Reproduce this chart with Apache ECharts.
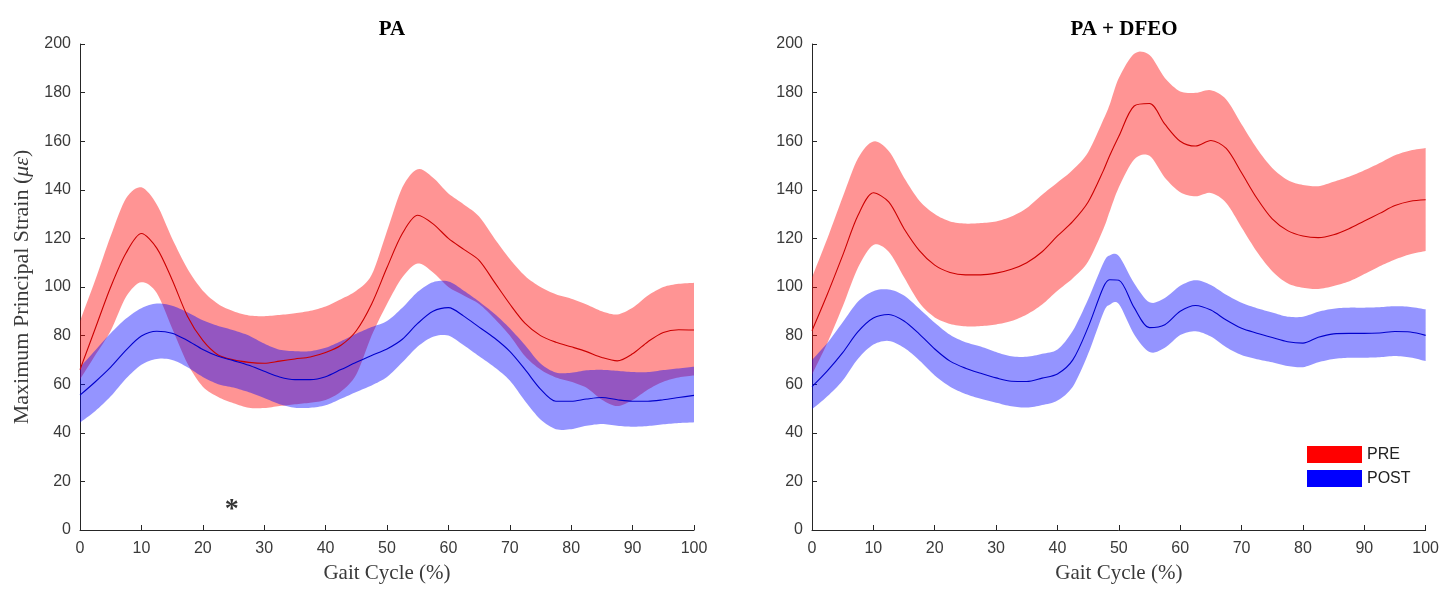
<!DOCTYPE html>
<html>
<head>
<meta charset="utf-8">
<script src="https://cdn.jsdelivr.net/npm/echarts@6/dist/echarts.min.js"></script>
<style>
html,body{margin:0;padding:0;background:#fff;}
#chart{width:1442px;height:589px;}
</style>
</head>
<body>
<div id="chart"></div>
<script>
// ---------- Data ----------
const panelTitles = ['PA', 'PA + DFEO'];
const xTicks = [0, 10, 20, 30, 40, 50, 60, 70, 80, 90, 100];
const yTicks = [0, 20, 40, 60, 80, 100, 120, 140, 160, 180, 200];

// Left panel (PA)
const xLeft = [0,2.5,5,7.5,10,12.5,15,17.5,20,22.5,25,27.5,30,32.5,35,37.5,40,42.5,45,47.5,50,52.5,55,57.5,60,62.5,65,67.5,70,72.5,75,77.5,80,82.5,85,87.5,90,92.5,95,97.5,100];
const preMeanLeft  = [66,83,100,114,122,116,103,88,78,72,70,69,68.6,69.5,70.4,71.2,73,76,82,93,108,122,129.5,126,120,115.5,111,102,93,85,80,77.3,75.4,73.4,71,69.6,72.5,77.5,81.3,82.4,82.3];
const preUpperLeft = [86,103,121,136.5,141,134,120,107.5,98.5,93,90,88.3,88,88.5,89.2,90.2,92,95,98.5,105,123,141,148.5,145,138.5,134,129,120,111.5,104.5,100,97,95.2,92.8,90,88.7,91.5,96.5,100,101.3,101.7];
const preLowerLeft = [62,72,82,96,102,97.5,83,68.5,59,54.7,52.2,50.3,50.2,51,51.7,52.4,53.5,57,64,80,93,104,109.7,106,100,96.5,93,87,80,71.5,66,62.8,61,58.5,53.6,51,53.5,57.8,61,62.8,63.6];
const postMeanLeft  = [55.5,61,67,74,79.8,81.8,81,78,74.3,71.5,69.7,67.8,65.3,63,61.9,61.9,63.1,66,69,71.8,74.5,78.5,85,90,91.5,88,83.5,79,73.5,66,58,53,53,53.9,54.5,53.6,53,53,53.6,54.5,55.4];
const postUpperLeft = [67,74,81,87,91.3,93.2,92.3,89.6,86.3,84,82.2,80,76.7,74.2,73.6,73.6,75,77.7,80.8,83.5,86,91.5,98,102,102.3,98.5,94,89,83,76,68.5,64.8,64.7,65.7,65.9,65.5,65,65,65.8,66.5,67.2];
const postLowerLeft = [44.2,49,55,62.3,68,70.4,70,67,63,60,58.6,56.7,54.3,51.8,50.3,50.3,51.3,54,56.8,59.5,63,69,75.5,79.5,80,76,71.5,67,61.5,53,45.5,41.5,41.5,42.9,43.6,42.9,42.5,42.8,43.5,44,44.3];
const asteriskPoint = [24.7, 10];

// Right panel (PA + DFEO)
const xRight = [0,2.5,5,7.5,10,12.5,15,17.5,20,22.5,25,27.5,30,32.5,35,37.5,40,42.5,45,47.5,48.5,50,52.5,55,57.5,60,62.5,65,67.5,70,72.5,75,77.5,80,82.5,85,87.5,90,92.5,95,97.5,100];
const preMeanRight  = [82,97,113,129.5,138.8,135,124,115,109,106,105,105,105.7,107.3,110,114.5,121,127,135,148,154,162,174.5,175.5,167,160,158,160.3,157,147,136.5,128,123.2,121,120.3,121.5,124,127.2,130.3,133.5,135.3,135.9];
const preUpperRight = [104,120,137,153,159.9,156,145,135.5,130,127,126.1,126.3,127,129,132.5,138,143,148.2,155.5,169,175,186,196,195.5,186,180.5,179.9,181,177.2,167,157,149,144,142,141.5,143.3,145.4,148,151,154.2,156.2,157.2];
const preLowerRight = [64,77,92,108,117.3,114.5,104,93.5,87.5,84.8,83.8,83.9,84.6,86,88.7,92.8,98.5,103.6,110.5,124,131,141,152.5,154,145,139,137.3,138.7,134.6,124.5,114.5,106.5,101.5,99.7,99.2,100.4,102.3,105.3,108.5,111.3,113.5,114.8];
const postMeanRight  = [59,65.5,73,81.6,87.2,88.7,86,80.6,74.5,69.5,66.6,64.5,62.6,61.2,61.1,62.5,64.2,70,83.5,100,103,102.8,91.5,83.3,84.5,90,92.4,90.5,86.4,83,81,79.2,77.5,76.9,79.3,80.7,80.9,80.9,81.1,81.7,81.5,80.1];
const postUpperRight = [70,77,85.5,94,98.3,99,96.5,91,85.3,80.3,77.3,75.5,73.2,71.5,71.3,72.5,74.3,82,95,110,113,112.8,101.5,93.7,95.5,100.5,102.8,100.8,96.8,93.5,91.3,89.5,87.8,87.8,89.8,91.1,91.5,91.5,91.7,92.1,91.8,90.8];
const postLowerRight = [49.7,55,61.5,70.5,76.3,77.8,75,69.8,63.6,59,56,54,52.4,50.9,50.4,51.4,53.3,59,72.5,89.5,92.7,93,80.5,73.2,75,80.2,81.8,79.6,75.2,72,70.3,69,67.5,67,69,70.4,70.9,70.9,71.1,71.6,71,69.5];

const legendNames = ['PRE', 'POST'];

// ---------- Helpers ----------
const zip = (xs, ys) => xs.map((x, i) => [x, ys[i]]);
const SMOOTH = 0.3;

// Smooth an edge (pixel coords from api.coord) with cubic Bezier segments, sampled for drawing
function smoothEdge(pts, k) {
  const out = [pts[0]];
  const n = pts.length;
  for (let i = 0; i < n - 1; i++) {
    const p0 = pts[Math.max(i - 1, 0)], p1 = pts[i], p2 = pts[i + 1], p3 = pts[Math.min(i + 2, n - 1)];
    const c1 = [p1[0] + (p2[0] - p0[0]) * k, p1[1] + (p2[1] - p0[1]) * k];
    const c2 = [p2[0] - (p3[0] - p1[0]) * k, p2[1] - (p3[1] - p1[1]) * k];
    const steps = 8;
    for (let s = 1; s <= steps; s++) {
      const t = s / steps, u = 1 - t;
      out.push([
        u*u*u*p1[0] + 3*u*u*t*c1[0] + 3*u*t*t*c2[0] + t*t*t*p2[0],
        u*u*u*p1[1] + 3*u*u*t*c1[1] + 3*u*t*t*c2[1] + t*t*t*p2[1]
      ]);
    }
  }
  return out;
}

// Band drawn as one polygon, every vertex placed with the axis scales (api.coord)
function bandRenderItem(params, api) {
  if (params.dataIndexInside !== 0) return null;
  const n = params.dataInsideLength;
  const top = [], bottom = [];
  for (let i = 0; i < n; i++) {
    const x = api.value(0, i);
    top.push(api.coord([x, api.value(2, i)]));
    bottom.push(api.coord([x, api.value(1, i)]));
  }
  const pts = smoothEdge(top, 0.15).concat(smoothEdge(bottom, 0.15).reverse());
  return {
    type: 'polygon',
    shape: { points: pts },
    style: { fill: api.visual('color'), stroke: null }
  };
}

function groupSeries(name, xs, mean, upper, lower, bandColor, lineColor, gi) {
  return [
    {
      name: name, type: 'custom', xAxisIndex: gi, yAxisIndex: gi,
      data: xs.map((x, i) => [x, lower[i], upper[i]]),
      encode: { x: 0, y: [1, 2] },
      itemStyle: { color: bandColor },
      renderItem: bandRenderItem, silent: true
    },
    {
      name: name + ' mean', type: 'line', xAxisIndex: gi, yAxisIndex: gi,
      data: zip(xs, mean), symbol: 'none', smooth: SMOOTH,
      lineStyle: { width: 1.1, color: lineColor }, silent: true
    }
  ];
}

const RED_BAND = 'rgba(255,0,0,0.42)';
const BLUE_BAND = 'rgba(0,0,255,0.42)';
const RED_LINE = '#cc0000';
const BLUE_LINE = '#0000cc';

const sansFont = '"Liberation Sans", Arial, Helvetica, sans-serif';
const serifFont = '"Liberation Serif", "Times New Roman", serif';
const axisColor = '#262626';
const labelColor = '#3a3a3a';

function xAxisCfg(gi) {
  return {
    type: 'value', gridIndex: gi, min: xTicks[0], max: xTicks[xTicks.length - 1], interval: 10,
    splitLine: { show: false },
    axisLine: { show: true, lineStyle: { color: axisColor, width: 1 } },
    axisTick: { show: true, inside: true, length: 5, lineStyle: { color: axisColor } },
    axisLabel: { color: labelColor, fontSize: 16, fontFamily: sansFont, margin: 11 },
    name: 'Gait Cycle (%)', nameLocation: 'middle', nameGap: 33,
    nameTextStyle: { color: labelColor, fontSize: 21, fontFamily: serifFont }
  };
}
function yAxisCfg(gi, withName) {
  const cfg = {
    type: 'value', gridIndex: gi, min: yTicks[0], max: yTicks[yTicks.length - 1], interval: 20,
    splitLine: { show: false },
    axisLine: { show: true, lineStyle: { color: axisColor, width: 1 } },
    axisTick: { show: true, inside: true, length: 5, lineStyle: { color: axisColor } },
    axisLabel: { color: labelColor, fontSize: 16, fontFamily: sansFont, margin: 9 }
  };
  if (withName) {
    cfg.name = 'Maximum Principal Strain ({i|με})';
    cfg.nameLocation = 'middle';
    cfg.nameGap = 47;
    cfg.nameTextStyle = {
      color: labelColor, fontSize: 22, fontFamily: serifFont,
      rich: { i: { fontStyle: 'italic', fontSize: 22, fontFamily: serifFont, color: labelColor } }
    };
  }
  return cfg;
}

const series = [].concat(
  groupSeries('PRE', xLeft, preMeanLeft, preUpperLeft, preLowerLeft, RED_BAND, RED_LINE, 0),
  groupSeries('POST', xLeft, postMeanLeft, postUpperLeft, postLowerLeft, BLUE_BAND, BLUE_LINE, 0),
  groupSeries('PRE', xRight, preMeanRight, preUpperRight, preLowerRight, RED_BAND, RED_LINE, 1),
  groupSeries('POST', xRight, postMeanRight, postUpperRight, postLowerRight, BLUE_BAND, BLUE_LINE, 1),
  [{
    name: 'significance', type: 'scatter', xAxisIndex: 0, yAxisIndex: 0,
    data: [asteriskPoint], symbol: 'circle', symbolSize: 2,
    itemStyle: { color: 'rgba(0,0,0,0)' }, silent: true,
    label: { show: true, position: 'inside', formatter: '*', color: '#000', fontSize: 28, fontWeight: 'bold', fontFamily: serifFont, offset: [0, 4] }
  }]
);

const option = {
  backgroundColor: '#fff',
  animation: false,
  title: [
    { text: panelTitles[0], left: 387, top: 14, textAlign: 'center',
      textStyle: { fontFamily: serifFont, fontWeight: 'bold', fontSize: 21, color: '#000' } },
    { text: panelTitles[1], left: 1119, top: 14, textAlign: 'center',
      textStyle: { fontFamily: serifFont, fontWeight: 'bold', fontSize: 21, color: '#000' } }
  ],
  grid: [
    { left: 80, top: 44, width: 614, height: 487 },
    { left: 812, top: 44, width: 614, height: 487 }
  ],
  xAxis: [xAxisCfg(0), xAxisCfg(1)],
  yAxis: [yAxisCfg(0, true), yAxisCfg(1, false)],
  legend: {
    orient: 'vertical', left: 1307, top: 446, padding: 0, itemWidth: 55, itemHeight: 17, itemGap: 7,
    icon: 'rect', selectedMode: false,
    textStyle: { color: '#222', fontSize: 16, fontFamily: sansFont },
    data: [
      { name: legendNames[0], itemStyle: { color: '#ff0000', opacity: 1 } },
      { name: legendNames[1], itemStyle: { color: '#0000ff', opacity: 1 } }
    ]
  },
  series: series
};

const chart = echarts.init(document.getElementById('chart'), null, { renderer: 'canvas' });
chart.setOption(option);
</script>
</body>
</html>
